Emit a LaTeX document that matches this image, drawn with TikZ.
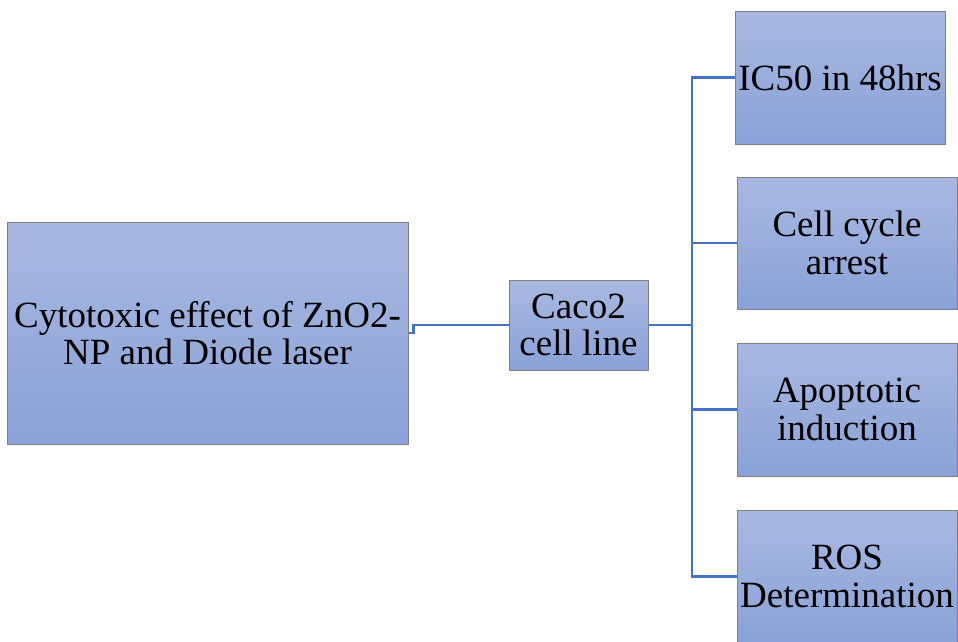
\documentclass[tikz,border=0pt]{standalone}
\usepackage{fontspec}
\setmainfont{Liberation Serif}
\definecolor{boxtop}{HTML}{A9B8E1}
\definecolor{boxbot}{HTML}{8AA2D7}
\definecolor{boxedge}{HTML}{7F7F7F}
\definecolor{linkblue}{HTML}{4472C4}
\begin{document}
\begin{tikzpicture}[x=1pt,y=-1pt,
  card/.style={draw=boxedge,line width=1pt,top color=boxtop,bottom color=boxbot,
    align=center,inner sep=0pt,text=black,font=\fontsize{37}{37.5}\selectfont},
  link/.style={draw=linkblue,line width=2.5pt}]
\useasboundingbox (0,0) rectangle (958,641);
\begin{scope}
\clip (0,0) rectangle (958,641);
\node[card,minimum width=401pt,minimum height=222pt] (big) at (207.5,333) {Cytotoxic effect of ZnO2-\\NP and Diode laser};
\node[card,minimum width=139pt,minimum height=90pt] (caco) at (578.5,325) {Caco2\\cell line};
\node[card,minimum width=210pt,minimum height=133pt] (b1) at (840,77.5) {IC50 in 48hrs};
\node[card,minimum width=220pt,minimum height=132pt] (b2) at (847,243) {Cell cycle\\arrest};
\node[card,minimum width=220pt,minimum height=133pt] (b3) at (847,409.5) {Apoptotic\\induction};
\node[card,minimum width=220pt,minimum height=133pt] (b4) at (847,576.5) {ROS\\Determination};
\coordinate (trunk) at (692,325);
\draw[link] (big.east) -- ++(5,0) |- (caco.west);
\draw[link] (caco.east) -- (trunk);
\draw[link] (trunk) |- (b1.west);
\draw[link] (trunk) |- (b2.west);
\draw[link] (trunk) |- (b3.west);
\draw[link] (trunk) |- (b4.west);
\end{scope}
\end{tikzpicture}
\end{document}
